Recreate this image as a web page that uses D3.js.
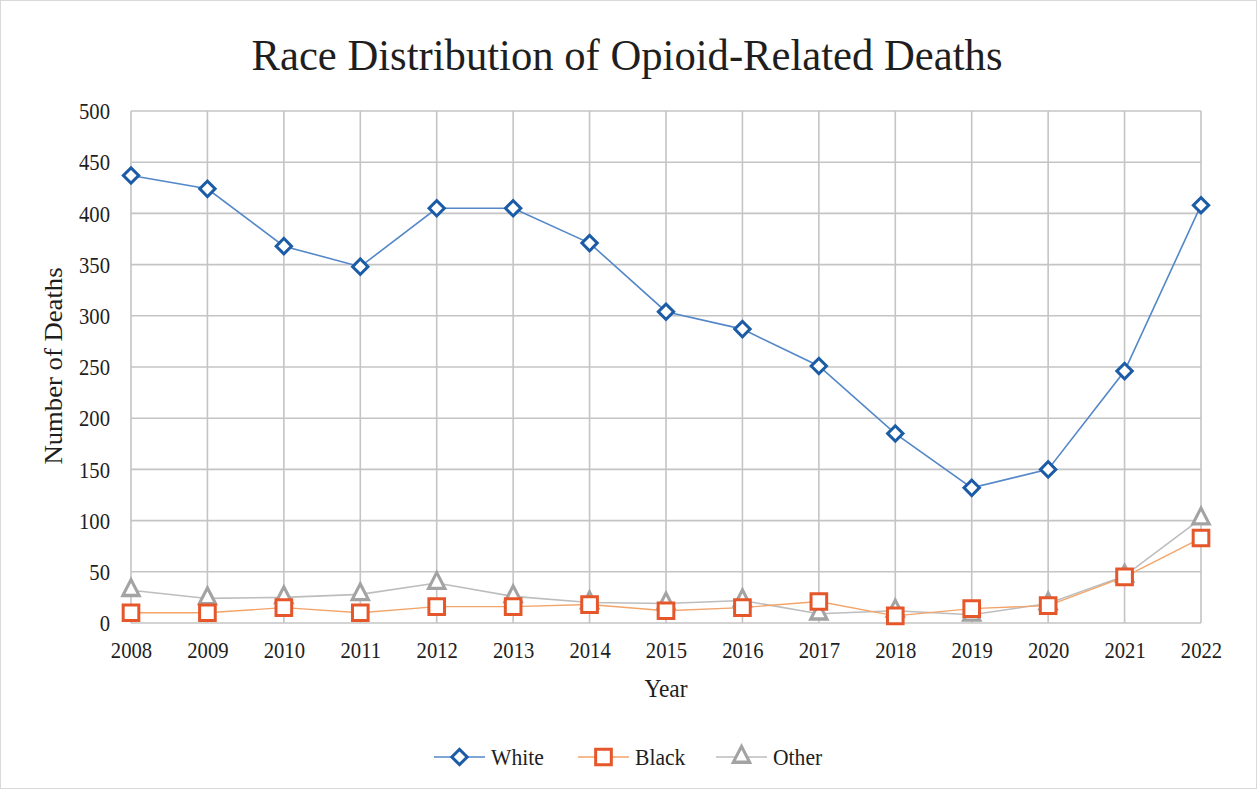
<!DOCTYPE html>
<html>
<head>
<meta charset="utf-8">
<script src="https://cdn.jsdelivr.net/npm/d3@7"></script>
<style>
  body { margin: 0; background: #fff; }
  svg { display: block; }
</style>
</head>
<body>
<svg id="chart" width="1257" height="789"></svg>
<script>
// Yearly opioid-related deaths by race
const years = [2008, 2009, 2010, 2011, 2012, 2013, 2014, 2015, 2016, 2017, 2018, 2019, 2020, 2021, 2022];
const white = [437, 424, 368, 348, 405, 405, 371, 304, 287, 251, 185, 132, 150, 246, 408];
const black = [10, 10, 15, 10, 16, 16, 18, 12, 15, 21, 7, 14, 17, 45, 83];
const other = [32, 24, 25, 28, 39, 26, 20, 19, 22, 9, 12, 8, 19, 46, 102];
const yTicks = [0, 50, 100, 150, 200, 250, 300, 350, 400, 450, 500];

const font = "'Liberation Serif', 'Times New Roman', serif";
const ink = "#1e1e1e";
const svg = d3.select("#chart");
const W = 1257, H = 789;

// narrow a text run slightly, like a condensed Times face
function condense(sel, k) {
  sel.each(function () {
    const len = this.getComputedTextLength();
    d3.select(this).attr("textLength", len * k).attr("lengthAdjust", "spacingAndGlyphs");
  });
}

// chart frame
svg.append("rect").attr("x", 0.5).attr("y", 0.5).attr("width", W - 1).attr("height", H - 1)
  .attr("fill", "#fff").attr("stroke", "#d9d9d9");

const plot = { left: 131, right: 1201, top: 111, bottom: 623 };

const x = d3.scalePoint().domain(years).range([plot.left, plot.right]);
const y = d3.scaleLinear().domain([0, 500]).range([plot.bottom, plot.top]);

// gridlines
const grid = svg.append("g");
grid.selectAll("line.h").data(yTicks).join("line")
  .attr("x1", plot.left).attr("x2", plot.right)
  .attr("y1", d => y(d)).attr("y2", d => y(d))
  .attr("stroke", "#c4c4c4").attr("stroke-width", 1.6);
grid.selectAll("line.v").data(years).join("line")
  .attr("x1", d => x(d)).attr("x2", d => x(d))
  .attr("y1", plot.top).attr("y2", plot.bottom)
  .attr("stroke", "#c4c4c4").attr("stroke-width", 1.6);

// axes (labels only)
const yAxis = svg.append("g").attr("transform", `translate(${plot.left},0)`)
  .call(d3.axisLeft(y).tickValues(yTicks).tickSize(0).tickPadding(21));
const xAxis = svg.append("g").attr("transform", `translate(0,${plot.bottom})`)
  .call(d3.axisBottom(x).tickSize(0).tickPadding(18));
[xAxis, yAxis].forEach(a => {
  a.select(".domain").remove();
  a.selectAll("text").attr("font-family", font).attr("font-size", 24).attr("fill", ink)
    .call(condense, 0.86);
});

// titles
svg.append("text").attr("x", 627).attr("y", 70).attr("text-anchor", "middle")
  .attr("font-family", font).attr("font-size", 44).attr("fill", ink)
  .text("Race Distribution of Opioid-Related Deaths")
  .attr("textLength", 751).attr("lengthAdjust", "spacingAndGlyphs");
svg.append("text").attr("x", 666).attr("y", 697).attr("text-anchor", "middle")
  .attr("font-family", font).attr("font-size", 26).attr("fill", ink).text("Year")
  .call(condense, 0.9);
svg.append("text").attr("transform", `translate(62,${(plot.top + plot.bottom) / 2 - 1}) rotate(-90)`)
  .attr("text-anchor", "middle").attr("font-family", font).attr("font-size", 26).attr("fill", ink)
  .text("Number of Deaths")
  .attr("textLength", 197).attr("lengthAdjust", "spacingAndGlyphs");

const series = [
  { name: "White", values: white, line: "#5387c8", mark: "#1c5ca6", shape: d3.symbolSquare, size: 118, rot: 45, sy: 1, lw: 1.6 },
  { name: "Black", values: black, line: "#f2a46a", mark: "#e5562a", shape: d3.symbolSquare, size: 245, rot: 0, sy: 1, lw: 1.4 },
  { name: "Other", values: other, line: "#bdbdbd", mark: "#a3a3a3", shape: d3.symbolTriangle, size: 115, rot: 0, sy: 1.12, lw: 1.6 }
];

const markTransform = (s, px, py) => `translate(${px},${py}) scale(1,${s.sy}) rotate(${s.rot})`;

const line = d3.line().x((d, i) => x(years[i])).y(d => y(d));

// draw order: Other and Black first so White sits on top
[series[2], series[1], series[0]].forEach(s => {
  const g = svg.append("g");
  g.append("path").datum(s.values).attr("d", line)
    .attr("fill", "none").attr("stroke", s.line).attr("stroke-width", s.lw);
  g.selectAll("path.m").data(s.values).join("path").attr("class", "m")
    .attr("transform", (d, i) => markTransform(s, x(years[i]), y(d)))
    .attr("d", d3.symbol().type(s.shape).size(s.size))
    .attr("fill", "#fff").attr("stroke", s.mark).attr("stroke-width", 3);
});

// legend
const legendItems = [
  { s: series[0], x: 434 },
  { s: series[1], x: 578 },
  { s: series[2], x: 716 }
];
const ly = 757;
legendItems.forEach(({ s, x: lx }) => {
  const g = svg.append("g").attr("transform", `translate(${lx},${ly})`);
  g.append("line").attr("x1", 0).attr("x2", 51).attr("y1", 0).attr("y2", 0)
    .attr("stroke", s.line).attr("stroke-width", s.lw);
  g.append("path").attr("transform", markTransform(s, 25.5, 0))
    .attr("d", d3.symbol().type(s.shape).size(s.size))
    .attr("fill", "#fff").attr("stroke", s.mark).attr("stroke-width", 3);
  g.append("text").attr("x", 57).attr("y", 8).attr("font-family", font).attr("font-size", 24)
    .attr("fill", ink).text(s.name).call(condense, 0.9);
});
</script>
</body>
</html>
